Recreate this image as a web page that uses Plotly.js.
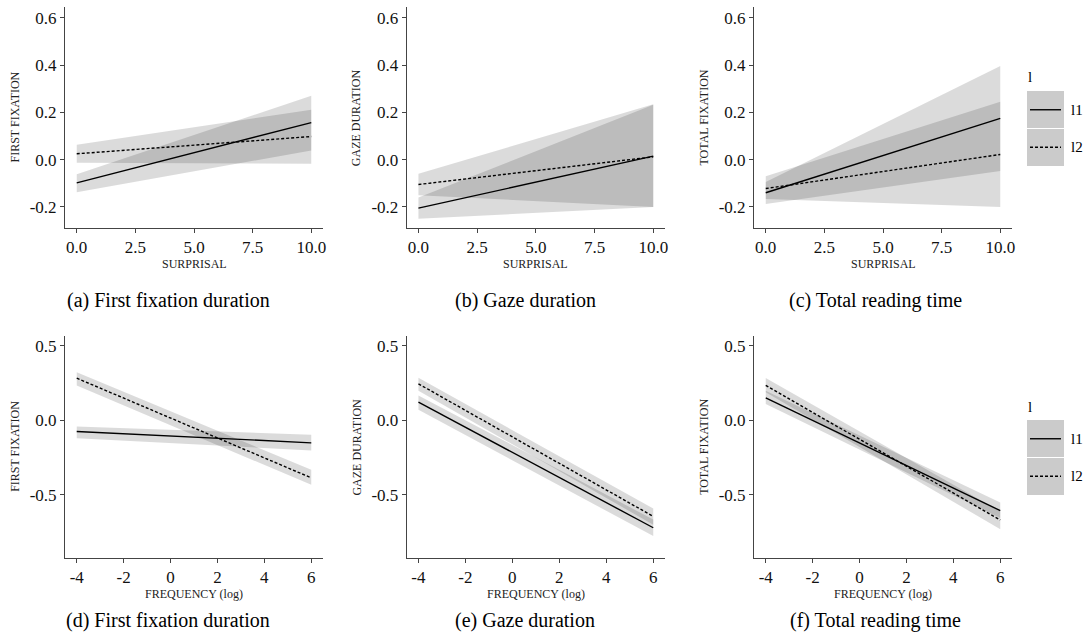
<!DOCTYPE html>
<html>
<head>
<meta charset="utf-8">
<script src="https://cdn.plot.ly/plotly-3.0.1.min.js"></script>
<style>html,body{margin:0;padding:0;background:#fff;}#chart{width:1088px;height:642px;}</style>
</head>
<body>
<div id="chart"></div>
<script>
// ---------- data ----------
const seriesNames = ['l1', 'l2'];
const legendTitle = 'l';
const xSurprisal = [0, 10];
const xFrequency = [-4, 6];

// (a) first fixation ~ surprisal
const ffSurL1 = [-0.098, 0.157], ffSurL1Lo = [-0.138, 0.039], ffSurL1Hi = [-0.062, 0.270];
const ffSurL2 = [0.025, 0.098],  ffSurL2Lo = [-0.013, -0.017], ffSurL2Hi = [0.063, 0.211];
// (b) gaze duration ~ surprisal
const gdSurL1 = [-0.205, 0.015], gdSurL1Lo = [-0.250, -0.200], gdSurL1Hi = [-0.160, 0.232];
const gdSurL2 = [-0.105, 0.012], gdSurL2Lo = [-0.150, -0.200], gdSurL2Hi = [-0.060, 0.235];
// (c) total fixation ~ surprisal
const tfSurL1 = [-0.140, 0.175], tfSurL1Lo = [-0.187, -0.048], tfSurL1Hi = [-0.094, 0.396];
const tfSurL2 = [-0.122, 0.022], tfSurL2Lo = [-0.166, -0.200], tfSurL2Hi = [-0.070, 0.245];
// (d) first fixation ~ frequency
const ffFrqL1 = [-0.074, -0.150], ffFrqL1Lo = [-0.119, -0.201], ffFrqL1Hi = [-0.040, -0.096];
const ffFrqL2 = [0.284, -0.385],  ffFrqL2Lo = [0.235, -0.432],  ffFrqL2Hi = [0.324, -0.331];
// (e) gaze duration ~ frequency
const gdFrqL1 = [0.123, -0.720], gdFrqL1Lo = [0.072, -0.776], gdFrqL1Hi = [0.168, -0.665];
const gdFrqL2 = [0.246, -0.644], gdFrqL2Lo = [0.200, -0.700], gdFrqL2Hi = [0.286, -0.590];
// (f) total fixation ~ frequency
const tfFrqL1 = [0.152, -0.605], tfFrqL1Lo = [0.110, -0.655], tfFrqL1Hi = [0.200, -0.550];
const tfFrqL2 = [0.235, -0.668], tfFrqL2Lo = [0.190, -0.730], tfFrqL2Hi = [0.285, -0.610];

const surTickVals = [0, 2.5, 5, 7.5, 10];
const surTickText = ['0.0', '2.5', '5.0', '7.5', '10.0'];
const frqTickVals = [-4, -2, 0, 2, 4, 6];
const frqTickText = ['-4', '-2', '0', '2', '4', '6'];
const topYTickVals = [-0.2, 0, 0.2, 0.4, 0.6];
const topYTickText = ['-0.2', '0.0', '0.2', '0.4', '0.6'];
const botYTickVals = [-0.5, 0, 0.5];
const botYTickText = ['-0.5', '0.0', '0.5'];

const yTitles = ['FIRST FIXATION', 'GAZE DURATION', 'TOTAL FIXATION'];
const xTitles = ['SURPRISAL', 'FREQUENCY (log)'];
const captions = ['(a) First fixation duration', '(b) Gaze duration', '(c) Total reading time',
                  '(d) First fixation duration', '(e) Gaze duration', '(f) Total reading time'];

// ---------- layout helpers ----------
const W = 1088, H = 642;
const px = v => v / W;
const py = v => 1 - v / H;
const SERIF = 'Liberation Serif';
const AXC = '#444';

const colX = [[65, 323], [406.7, 665], [754, 1012]];
const rowY = [[7, 228], [336, 557.7]];

const panels = [
  {x: xSurprisal, s: [[ffSurL1, ffSurL1Lo, ffSurL1Hi], [ffSurL2, ffSurL2Lo, ffSurL2Hi]]},
  {x: xSurprisal, s: [[gdSurL1, gdSurL1Lo, gdSurL1Hi], [gdSurL2, gdSurL2Lo, gdSurL2Hi]]},
  {x: xSurprisal, s: [[tfSurL1, tfSurL1Lo, tfSurL1Hi], [tfSurL2, tfSurL2Lo, tfSurL2Hi]]},
  {x: xFrequency, s: [[ffFrqL1, ffFrqL1Lo, ffFrqL1Hi], [ffFrqL2, ffFrqL2Lo, ffFrqL2Hi]]},
  {x: xFrequency, s: [[gdFrqL1, gdFrqL1Lo, gdFrqL1Hi], [gdFrqL2, gdFrqL2Lo, gdFrqL2Hi]]},
  {x: xFrequency, s: [[tfFrqL1, tfFrqL1Lo, tfFrqL1Hi], [tfFrqL2, tfFrqL2Lo, tfFrqL2Hi]]}
];

const traces = [];
const layout = {
  width: W, height: H,
  margin: {l: 0, r: 0, t: 0, b: 0},
  paper_bgcolor: '#fff', plot_bgcolor: '#fff',
  showlegend: false,
  font: {family: SERIF, color: '#111'},
  annotations: [], shapes: []
};

panels.forEach((p, i) => {
  const n = i + 1;
  const xa = n === 1 ? 'x' : 'x' + n;
  const ya = n === 1 ? 'y' : 'y' + n;
  const row = i < 3 ? 0 : 1, col = i % 3;
  p.s.forEach(([mid, lo, hi]) => {
    traces.push({
      type: 'scatter', mode: 'lines', xaxis: xa, yaxis: ya,
      x: p.x.concat(p.x.slice().reverse()),
      y: hi.concat(lo.slice().reverse()),
      fill: 'toself', fillcolor: 'rgba(0,0,0,0.14)',
      line: {width: 0}, hoverinfo: 'skip'
    });
  });
  p.s.forEach(([mid], k) => {
    traces.push({
      type: 'scatter', mode: 'lines', xaxis: xa, yaxis: ya,
      x: p.x, y: mid, name: seriesNames[k],
      line: {color: '#000', width: 1.4, dash: k === 0 ? 'solid' : '3px,2px'}
    });
  });
  const isTop = row === 0;
  const common = {
    showgrid: false, zeroline: false,
    showline: true, linecolor: AXC, linewidth: 1,
    ticks: 'outside', ticklen: 4, tickcolor: AXC, tickwidth: 1,
    tickfont: {family: SERIF, size: 17, color: '#111'},
    fixedrange: true
  };
  layout['xaxis' + (n === 1 ? '' : n)] = Object.assign({
    domain: [px(colX[col][0]), px(colX[col][1])],
    anchor: ya,
    range: isTop ? [-0.5, 10.5] : [-4.5, 6.5],
    tickvals: isTop ? surTickVals : frqTickVals,
    ticktext: isTop ? surTickText : frqTickText
  }, common);
  layout['yaxis' + (n === 1 ? '' : n)] = Object.assign({
    domain: [py(rowY[row][1]), py(rowY[row][0])],
    anchor: xa,
    range: isTop ? [-0.289, 0.646] : [-0.921, 0.567],
    tickvals: isTop ? topYTickVals : botYTickVals,
    ticktext: isTop ? topYTickText : botYTickText
  }, common);
  const cx = (colX[col][0] + colX[col][1]) / 2;
  const cy = (rowY[row][0] + rowY[row][1]) / 2;
  layout.annotations.push({
    xref: 'paper', yref: 'paper', x: px(colX[col][0] - 50), y: py(cy),
    text: yTitles[col], textangle: -90, showarrow: false,
    font: {family: SERIF, size: 12, color: '#222'}, xanchor: 'center', yanchor: 'middle'
  });
  layout.annotations.push({
    xref: 'paper', yref: 'paper', x: px(cx), y: py(rowY[row][1] + 36),
    text: xTitles[row], showarrow: false,
    font: {family: SERIF, size: 12, color: '#222'}, xanchor: 'center', yanchor: 'middle'
  });
  const capX = [168, 525, 875][col];
  layout.annotations.push({
    xref: 'paper', yref: 'paper', x: px(capX), y: py(row === 0 ? 300 : 620),
    text: captions[i], showarrow: false,
    font: {family: SERIF, size: 20, color: '#000'}, xanchor: 'center', yanchor: 'middle'
  });
});

[[77, 91], [407, 420]].forEach(([titleY, boxTop]) => {
  layout.annotations.push({
    xref: 'paper', yref: 'paper', x: px(1026), y: py(titleY), text: legendTitle,
    showarrow: false, xanchor: 'left', yanchor: 'middle',
    font: {family: SERIF, size: 15, color: '#000'}
  });
  seriesNames.forEach((nm, k) => {
    const t = boxTop + k * 37.5, b = t + 37.5, m = (t + b) / 2;
    layout.shapes.push({
      type: 'rect', xref: 'paper', yref: 'paper',
      x0: px(1027), x1: px(1064), y0: py(b), y1: py(t),
      fillcolor: '#cbcbcb', line: {width: 0}
    });
    layout.shapes.push({
      type: 'line', xref: 'paper', yref: 'paper',
      x0: px(1030), x1: px(1061), y0: py(m), y1: py(m),
      line: {color: '#000', width: 1.4, dash: k === 0 ? 'solid' : '3px,2px'}
    });
    layout.annotations.push({
      xref: 'paper', yref: 'paper', x: px(1069), y: py(m), text: nm,
      showarrow: false, xanchor: 'left', yanchor: 'middle',
      font: {family: SERIF, size: 15, color: '#000'}
    });
  });
  layout.shapes.push({
    type: 'line', xref: 'paper', yref: 'paper',
    x0: px(1027), x1: px(1064), y0: py(boxTop + 37.5), y1: py(boxTop + 37.5),
    line: {color: '#fff', width: 1.2}
  });
});

Plotly.newPlot('chart', traces, layout, {staticPlot: true, displayModeBar: false});
</script>
</body>
</html>
